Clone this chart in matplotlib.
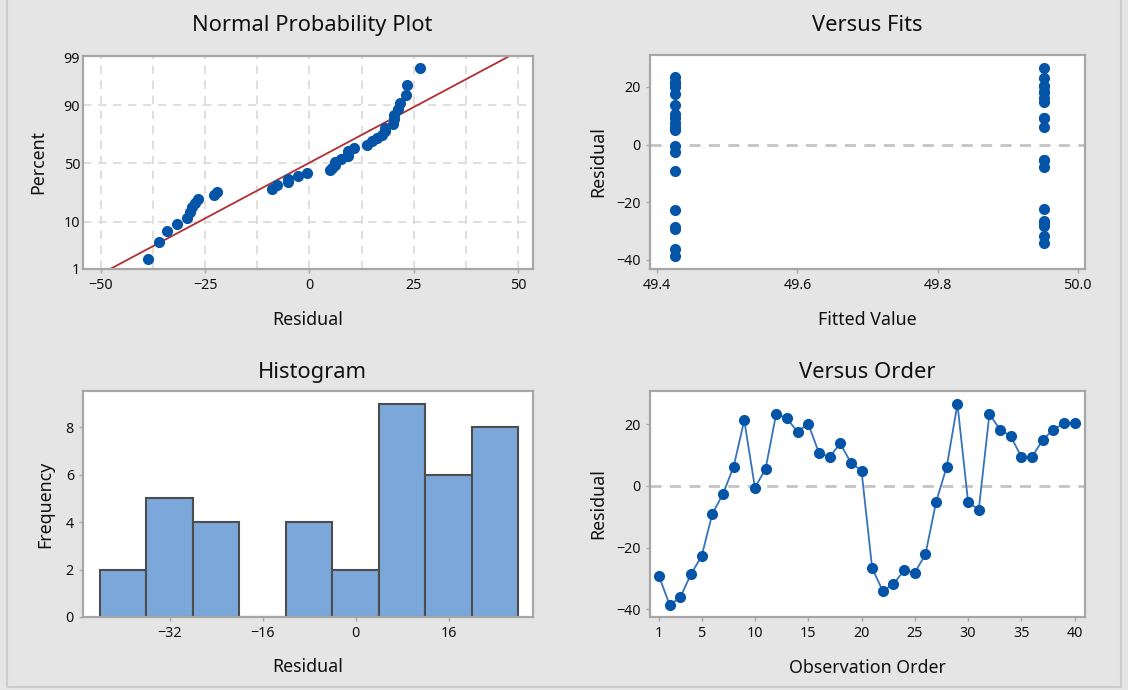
import numpy as np
import matplotlib.pyplot as plt
from matplotlib.patches import Rectangle
from statistics import NormalDist

residuals = [-29.3, -38.6, -36.1, -28.6, -22.8, -9.1, -2.7, 6.2, 21.2, -0.6,
             5.5, 23.4, 21.8, 17.5, 20.1, 10.7, 9.3, 13.7, 7.5, 4.9,
             -26.7, -34.1, -31.8, -27.4, -28.1, -22.2, -5.2, 6.2, 26.5, -5.2,
             -7.8, 23.2, 18.2, 16.1, 9.3, 9.3, 14.9, 18.2, 20.2, 20.2]
order = list(range(1, 41))
fitted = [49.425] * 20 + [49.952] * 20
hist_bins = [-44, -36, -28, -20, -12, -4, 4, 12, 20, 28]
pct_ticks = [1, 10, 50, 90, 99]

W, H = 1128, 690
BG = '#e5e5e5'
SPINE = '#a6a6a6'
DOT = '#0454a8'
TXT = '#111111'
FONT = ['Noto Sans', 'DejaVu Sans']
plt.rcParams['font.family'] = FONT

fig = plt.figure(figsize=(W / 100, H / 100), dpi=100, facecolor=BG)
fig.patches.append(Rectangle((7 / W, 3 / H), (1121 - 7) / W, 1.0, transform=fig.transFigure,
                             facecolor='none', edgecolor='#cdcdcd', lw=1.5))


def make_ax(left, right, top, bottom):
    ax = fig.add_axes([left / W, 1 - bottom / H, (right - left) / W, (bottom - top) / H])
    ax.set_facecolor('white')
    for s in ax.spines.values():
        s.set_color(SPINE)
        s.set_linewidth(1.6)
    ax.tick_params(colors=SPINE, labelcolor=TXT, labelsize=10.3, length=3, width=1)
    return ax


def title(x, y, s):
    fig.text(x / W, 1 - y / H, s, ha='center', va='baseline', fontsize=15.8, color=TXT)


def label(x, y, s, rot=0):
    fig.text(x / W, 1 - y / H, s, ha='center', va='center', fontsize=12.8, color=TXT, rotation=rot)


nd = NormalDist()
res = np.array(residuals)
n = len(res)

# Normal probability plot
ax1 = make_ax(83, 533, 56, 269)
xs = np.sort(res)
probs = (np.arange(1, n + 1) - 0.3) / (n + 0.4)
zs = [nd.inv_cdf(p) for p in probs]
mu, sd = res.mean(), res.std(ddof=1)
zlo, zhi = nd.inv_cdf(0.01), nd.inv_cdf(0.99)
for gx in np.arange(-50, 51, 12.5):
    ax1.axvline(gx, color='#d9d9d9', lw=1.2, ls=(0, (5, 4)), zorder=0)
for p in pct_ticks[1:-1]:
    ax1.axhline(nd.inv_cdf(p / 100), color='#d9d9d9', lw=1.2, ls=(0, (5, 4)), zorder=0)
line_z = np.array([zlo, zhi + 0.04])
ax1.plot(mu + sd * line_z, line_z, color='#b03030', lw=1.3, zorder=2)
ax1.plot(xs, zs, 'o', color=DOT, ms=7, zorder=3)
ax1.set_xlim(-54.3, 53.6)
ax1.set_ylim(zlo, zhi + 0.04)
ax1.set_xticks([-50, -25, 0, 25, 50])
ax1.set_yticks([nd.inv_cdf(p / 100) for p in pct_ticks])
ax1.set_yticklabels([str(p) for p in pct_ticks])
ax1.tick_params(axis='y', length=0, pad=2)
title(312, 31, 'Normal Probability Plot')
label(308, 320, 'Residual')
label(38, 162, 'Percent', 90)

# Versus fits
ax2 = make_ax(650, 1085, 55, 269)
ax2.axhline(0, color='#c4c4c4', lw=2, ls=(0, (4, 3)), zorder=1)
ax2.plot(fitted, residuals, 'o', color=DOT, ms=7, zorder=3)
ax2.set_xlim(49.3895, 50.0105)
ax2.set_ylim(-43.2, 31.1)
ax2.set_xticks([49.4, 49.6, 49.8, 50.0])
ax2.set_xticklabels(['49.4', '49.6', '49.8', '50.0'])
ax2.set_yticks([-40, -20, 0, 20])
title(867, 31, 'Versus Fits')
label(867, 320, 'Fitted Value')
label(598, 162, 'Residual', 90)

# Histogram
ax3 = make_ax(83, 533, 391, 617)
ax3.hist(residuals, bins=hist_bins, color='#7ba7da', edgecolor='#4d4d4d', lw=1.5, zorder=2)
ax3.set_xlim(-46.9, 30.5)
ax3.set_ylim(0, 9.535)
ax3.set_xticks([-32, -16, 0, 16])
ax3.set_yticks([0, 2, 4, 6, 8])
title(312, 378, 'Histogram')
label(308, 667, 'Residual')
label(45, 504, 'Frequency', 90)

# Versus order
ax4 = make_ax(650, 1085, 391, 617)
ax4.axhline(0, color='#c4c4c4', lw=2, ls=(0, (4, 3)), zorder=1)
ax4.plot(order, residuals, '-o', color='#3573bd', lw=1.3, mfc=DOT, mec=DOT, ms=7, zorder=3)
ax4.set_xlim(0.155, 40.97)
ax4.set_ylim(-42.5, 30.7)
ax4.set_xticks([1, 5, 10, 15, 20, 25, 30, 35, 40])
ax4.set_yticks([-40, -20, 0, 20])
title(867, 378, 'Versus Order')
label(867, 668, 'Observation Order')
label(598, 504, 'Residual', 90)

fig.savefig('out.png', dpi=100, facecolor=BG)
